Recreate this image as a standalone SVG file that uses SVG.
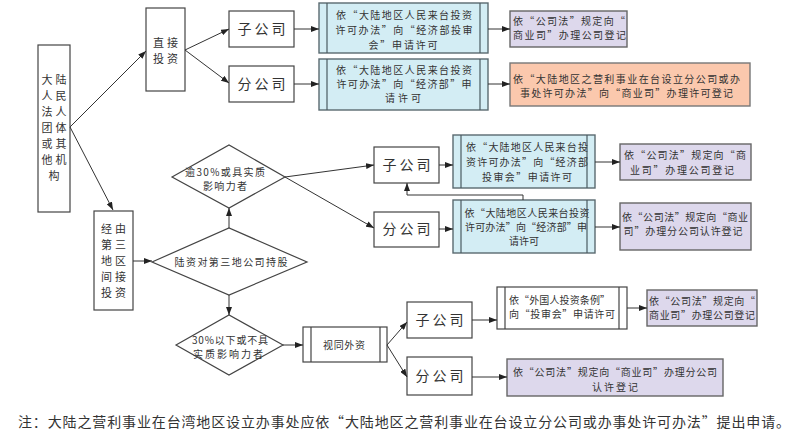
<svg xmlns="http://www.w3.org/2000/svg" width="800" height="445" viewBox="0 0 800 445">
<defs>
<marker id="arr" viewBox="0 0 8 6" refX="8" refY="3" markerWidth="8" markerHeight="6" markerUnits="userSpaceOnUse" orient="auto">
<path d="M0,0 L8,3 L0,6 Z" fill="#222"/>
</marker>
<style>
text{font-family:"Noto Sans CJK SC","Noto Sans CJK TC",sans-serif;fill:#333}
.w{fill:#fff;stroke:#444;stroke-width:1.2}
.b{fill:#d3edf4;stroke:#5a6a70;stroke-width:1.4}
.p{fill:#ddd8ec;stroke:#666;stroke-width:1.4}
.o{fill:#fbc8ad;stroke:#777;stroke-width:1.4}
.il{stroke:#4a5a60;stroke-width:1.2;fill:none}
.big{font-size:14px;letter-spacing:3px}
.v{font-size:11px;text-anchor:middle;letter-spacing:3px}
.s{font-size:10px}
.c{text-anchor:middle}
.con path{fill:none;stroke:#333;stroke-width:1;marker-end:url(#arr)}
</style>
</defs>
<rect width="800" height="445" fill="#fff"/>

<g id="n-root">
<rect class="w" x="38" y="45" width="32" height="167"/>
<text class="v"><tspan x="55.5" y="84">大陆</tspan><tspan x="55.5" y="100">人民</tspan><tspan x="55.5" y="116">法人</tspan><tspan x="55.5" y="132">团体</tspan><tspan x="55.5" y="148">或其</tspan><tspan x="55.5" y="164">他机</tspan><tspan x="55.5" y="180">构</tspan></text>
</g>

<g id="n-direct">
<rect class="w" x="146" y="8" width="39" height="83"/>
<text class="v"><tspan x="167" y="47">直接</tspan><tspan x="167" y="63">投资</tspan></text>
</g>

<g id="n-sub1">
<rect class="w" x="229" y="11" width="65" height="36"/>
<text class="big c" x="263" y="34">子公司</text>
</g>
<g id="n-br1">
<rect class="w" x="229" y="66" width="65" height="36"/>
<text class="big c" x="263" y="89">分公司</text>
</g>

<g id="n-blue1">
<rect class="b" x="319" y="3" width="169" height="50"/>
<line class="il" x1="327" y1="3" x2="327" y2="53"/><line class="il" x1="480" y1="3" x2="480" y2="53"/>
<text class="s c"><tspan x="404" y="19" textLength="136" lengthAdjust="spacing">依“大陆地区人民来台投资</tspan><tspan x="404" y="34" textLength="137" lengthAdjust="spacing">许可办法”向“经济部投审</tspan><tspan x="403" y="49" textLength="69" lengthAdjust="spacing">会”申请许可</tspan></text>
</g>
<g id="n-blue2">
<rect class="b" x="319" y="59" width="169" height="51"/>
<line class="il" x1="327" y1="59" x2="327" y2="110"/><line class="il" x1="480" y1="59" x2="480" y2="110"/>
<text class="s c"><tspan x="404" y="74" textLength="136" lengthAdjust="spacing">依“大陆地区人民来台投资</tspan><tspan x="404" y="88" textLength="135" lengthAdjust="spacing">许可办法”向“经济部”申</tspan><tspan x="403" y="102" textLength="36" lengthAdjust="spacing">请许可</tspan></text>
</g>

<g id="n-purple1">
<rect class="p" x="510" y="11" width="117" height="36"/>
<text class="s"><tspan x="513" y="25" textLength="112" lengthAdjust="spacing">依“公司法”规定向“</tspan><tspan x="513" y="39" textLength="113" lengthAdjust="spacing">商业司”办理公司登记</tspan></text>
</g>
<g id="n-orange">
<rect class="o" x="510" y="63" width="240" height="43"/>
<text class="s"><tspan x="513" y="83" textLength="227" lengthAdjust="spacing">依“大陆地区之营利事业在台设立分公司或办</tspan><tspan x="520" y="97" textLength="213" lengthAdjust="spacing">事处许可办法”向“商业司”办理许可登记</tspan></text>
</g>

<g id="n-indirect">
<rect class="w" x="94" y="211" width="39" height="99"/>
<text class="v"><tspan x="115" y="233">经由</tspan><tspan x="115" y="249">第三</tspan><tspan x="115" y="265">地区</tspan><tspan x="115" y="281">间接</tspan><tspan x="115" y="297">投资</tspan></text>
</g>

<g id="n-d1">
<polygon class="w" points="172,177 229,145 285,177 229,208"/>
<text class="s c"><tspan x="225" y="176" textLength="80" lengthAdjust="spacing">逾30%或具实质</tspan><tspan x="225" y="190" textLength="44" lengthAdjust="spacing">影响力者</tspan></text>
</g>
<g id="n-d2">
<polygon class="w" points="152,262 229,228 307,262 229,295"/>
<text class="s c" x="231" y="266" textLength="113" lengthAdjust="spacing">陆资对第三地公司持股</text>
</g>

<g id="n-sub2">
<rect class="w" x="374" y="147" width="65" height="36"/>
<text class="big c" x="408" y="170">子公司</text>
</g>
<g id="n-br2">
<rect class="w" x="374" y="212" width="65" height="35"/>
<text class="big c" x="408" y="234">分公司</text>
</g>

<g id="n-blue3">
<rect class="b" x="453" y="135" width="142" height="53"/>
<line class="il" x1="461" y1="135" x2="461" y2="188"/><line class="il" x1="587" y1="135" x2="587" y2="188"/>
<text class="s c"><tspan x="527" y="151" textLength="122" lengthAdjust="spacing">依“大陆地区人民来台投</tspan><tspan x="527" y="166" textLength="122" lengthAdjust="spacing">资许可办法”向“经济部</tspan><tspan x="527" y="181" textLength="90" lengthAdjust="spacing">投审会”申请许可</tspan></text>
</g>
<g id="n-blue4">
<rect class="b" x="453" y="200" width="142" height="53"/>
<line class="il" x1="461" y1="200" x2="461" y2="253"/><line class="il" x1="587" y1="200" x2="587" y2="253"/>
<text class="s c"><tspan x="527" y="217" textLength="125" lengthAdjust="spacing">依“大陆地区人民来台投资</tspan><tspan x="526" y="231" textLength="122" lengthAdjust="spacing">许可办法”向“经济部”申</tspan><tspan x="524" y="245" textLength="30" lengthAdjust="spacing">请许可</tspan></text>
</g>

<g id="n-purple2">
<rect class="p" x="620" y="144" width="131" height="36"/>
<text class="s c"><tspan x="685" y="159" textLength="122" lengthAdjust="spacing">依“公司法”规定向“商</tspan><tspan x="682" y="174" textLength="104" lengthAdjust="spacing">业司”办理公司登记</tspan></text>
</g>
<g id="n-purple3">
<rect class="p" x="620" y="203" width="131" height="47"/>
<text class="s c"><tspan x="685" y="221" textLength="126" lengthAdjust="spacing">依“公司法”规定向“商业</tspan><tspan x="683" y="235" textLength="119" lengthAdjust="spacing">司”办理分公司认许登记</tspan></text>
</g>

<g id="n-d3">
<polygon class="w" points="176,345 229,315 283,345 229,375"/>
<text class="s c"><tspan x="230" y="344" textLength="76" lengthAdjust="spacing">30%以下或不具</tspan><tspan x="228" y="358" textLength="70" lengthAdjust="spacing">实质影响力者</tspan></text>
</g>

<g id="n-foreign">
<rect class="w" x="303" y="327" width="84" height="35"/>
<line class="il" x1="311" y1="327" x2="311" y2="362" style="stroke:#444"/><line class="il" x1="380" y1="327" x2="380" y2="362" style="stroke:#444"/>
<text class="s c" x="344" y="349" textLength="42" lengthAdjust="spacing">视同外资</text>
</g>

<g id="n-sub3">
<rect class="w" x="407" y="302" width="65" height="36"/>
<text class="big c" x="441" y="325">子公司</text>
</g>
<g id="n-br3">
<rect class="w" x="407" y="357" width="65" height="38"/>
<text class="big c" x="441" y="381">分公司</text>
</g>

<g id="n-white">
<rect class="w" x="497" y="287" width="130" height="42"/>
<line class="il" x1="505" y1="287" x2="505" y2="329" style="stroke:#444"/><line class="il" x1="619" y1="287" x2="619" y2="329" style="stroke:#444"/>
<text class="s"><tspan x="509" y="304" textLength="101" lengthAdjust="spacing">依“外国人投资条例”</tspan><tspan x="509" y="318" textLength="106" lengthAdjust="spacing">向“投审会”申请许可</tspan></text>
</g>
<g id="n-purple4">
<rect class="p" x="647" y="290" width="110" height="36"/>
<text class="s"><tspan x="649" y="305" textLength="106" lengthAdjust="spacing">依“公司法”规定向“</tspan><tspan x="649" y="319" textLength="106" lengthAdjust="spacing">商业司”办理公司登记</tspan></text>
</g>
<g id="n-purple5">
<rect class="p" x="507" y="359" width="216" height="37"/>
<text class="s c"><tspan x="615" y="376" textLength="204" lengthAdjust="spacing">依“公司法”规定向“商业司”办理分公司</tspan><tspan x="615" y="391" textLength="46" lengthAdjust="spacing">认许登记</tspan></text>
</g>

<g id="connectors" class="con">
<path d="M70,127 L146,51"/>
<path d="M70,127 L113,210"/>
<path d="M185,50 L229,29"/>
<path d="M185,50 L229,83"/>
<path d="M294,29 L319,29"/>
<path d="M294,84 L319,84"/>
<path d="M488,29 L510,29"/>
<path d="M488,84 L510,84"/>
<path d="M133,261 L152,261"/>
<path d="M229,228 L229,208"/>
<path d="M285,177 L374,165"/>
<path d="M285,177 L374,228"/>
<path d="M439,165 L453,165"/>
<path d="M439,229 L453,229"/>
<path d="M523,200 V195 H407 V183"/>
<path d="M595,162 L620,162"/>
<path d="M595,227 L620,227"/>
<path d="M229,295 L229,315"/>
<path d="M283,345 L303,345"/>
<path d="M387,345 L407,322"/>
<path d="M387,345 L407,377"/>
<path d="M472,320 L497,320"/>
<path d="M627,308 L647,308"/>
<path d="M472,377 L507,377"/>
</g>

<g id="note">
<text x="18" y="427" style="font-size:14px" textLength="772" lengthAdjust="spacing">注：大陆之营利事业在台湾地区设立办事处应依“大陆地区之营利事业在台设立分公司或办事处许可办法”提出申请。</text>
</g>
</svg>
